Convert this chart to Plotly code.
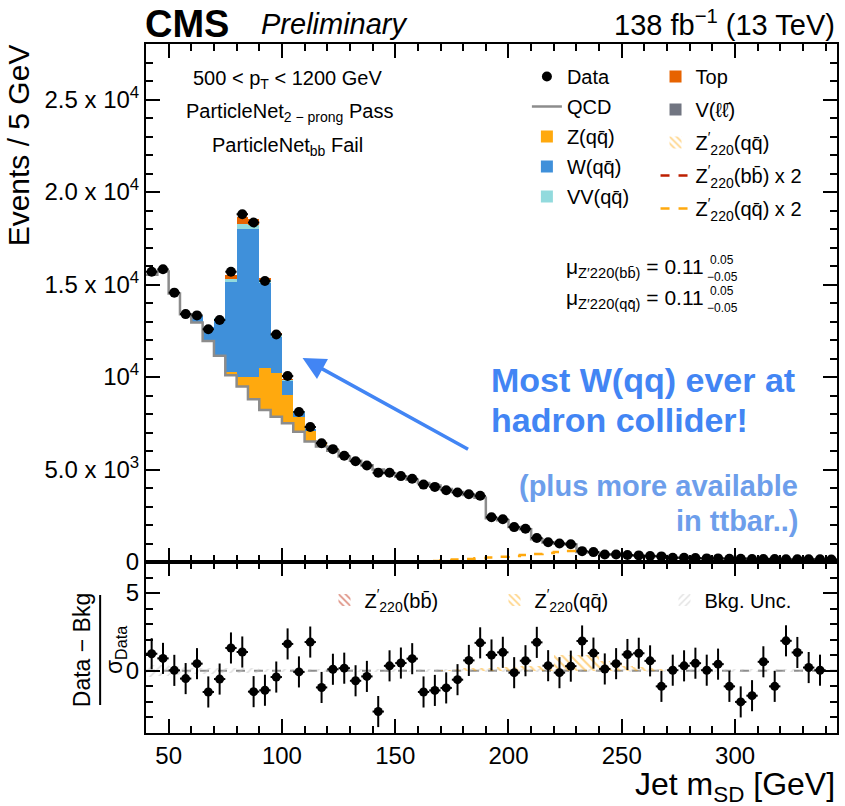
import numpy as np
import plotly.graph_objects as go

# ---------------- data ----------------
bin_width = 5
bin_low = list(range(40, 345, 5))          # 61 bins, 40 - 345 GeV

data = [15690, 15820, 14560, 13400, 13330, 12580, 13080, 15690, 18800, 18350,
        15190, 12300, 10050, 8110, 7295, 6420, 6100, 5747, 5443, 5213,
        4823, 4823, 4643, 4500, 4183, 4060, 3880, 3755, 3666, 3577,
        2420, 2313, 1887, 1798, 1300, 1068, 996, 960, 587, 534,
        410, 410, 375, 357, 320, 303, 230, 230, 210, 195,
        195, 178, 178, 160, 160, 160, 142, 142, 142, 142, 130]

qcd = [15530, 15700, 14520, 13390, 12950, 11950, 11150, 10090, 9480, 8800,
       8220, 7850, 7500, 7040, 6520, 6250, 6010, 5700, 5475, 5230,
       5000, 4800, 4610, 4450, 4270, 4140, 3950, 3790, 3625, 3470,
       2370, 2256, 1892, 1771, 1234, 1057, 1000, 951, 541, 508,
       408, 401, 355, 336, 308, 320, 229, 225, 203, 194,
       189, 191, 205, 180, 153, 173, 119, 128, 140, 142, 130]

zqq = [0, 0, 0, 0, 0, 0, 50, 180, 540, 1220,
       2250, 2350, 1530, 810, 600, 256, 82, 34, 15, 0] + [0] * 41
wqq = [20, 20, 30, 60, 330, 780, 1900, 4870, 8000, 7980,
       4604, 2010, 780, 250, 18, 0, 0, 0, 0, 0] + [0] * 41
vvqq = [0, 0, 0, 0, 0, 0, 40, 170, 250, 230,
        160, 90, 50, 16, 0, 0, 0, 0, 0, 0] + [0] * 41
top = [0, 0, 0, 0, 0, 0, 0, 196, 364, 301,
       110, 44, 17, 0, 0, 0, 0, 0, 0, 0] + [0] * 41

# Z'(220) -> qq signal (x1), bins 40..340
zp_qq = [0] * 23 + [5, 15, 30, 50, 65, 80, 100, 125, 145, 165,
                    190, 215, 240, 270, 300, 20, 10, 5] + [0] * 20

# lower panel: (Data - Bkg) / sigma_Data, bins 40..335
pull = [1.10, 0.80, 0.03, -0.50, 0.46, -1.36, -0.53, 1.47, 1.21, -1.34,
        -1.25, -0.40, 1.73, -0.07, 1.85, -1.07, 0.10, 0.17, -0.64, -0.36,
        -2.62, 0.32, 0.50, 0.78, -1.36, -1.26, -1.10, -0.57, 0.67, 1.80,
        1.02, 1.19, -0.12, 0.65, 1.83, 0.33, -0.12, 0.30, 1.92, 1.14,
        0.12, 0.46, 1.05, 1.13, 0.64, -1.00, 0.04, 0.32, 0.49, 0.04,
        0.43, -1.00, -2.00, -1.60, 0.58, -1.00, 1.93, 1.18, 0.21, 0.04]
bkg_unc = [0.40, 0.35, 0.30, 0.25, 0.20, 0.18, 0.16, 0.15, 0.15, 0.15] + [0.10] * 50
sig_pull = [0] * 26 + [0.05, 0.10, 0.15, 0.20, 0.20, 0.25, 0.25, 0.30, 0.30, 0.35,
                       1.00, 1.05, 1.05, 1.00, 0.60, 0.50, 0.30, 0.25, 0.15, 0.10] + [0] * 14

y_tickvals = [0, 5000, 10000, 15000, 20000, 25000]
y_ticktext = ["0", "5.0 x 10<sup>3</sup>", "10<sup>4</sup>", "1.5 x 10<sup>4</sup>",
              "2.0 x 10<sup>4</sup>", "2.5 x 10<sup>4</sup>"]

QQ = "qq\u0304"
BB = "bb\u0304"
LL = "\u2113\u2113\u0304"

# ---------------- derived ----------------
centers = [b + bin_width / 2 for b in bin_low]
edges = bin_low + [bin_low[-1] + bin_width]
centers_pull = centers[:len(pull)]

FONT = "Liberation Sans, Arial, Helvetica, sans-serif"
C_Z, C_W, C_VV, C_TOP, C_VLL = "#FFA90E", "#3F90DA", "#92DADD", "#E76300", "#717581"
C_QCD, C_RED = "#8c8c8c", "#BD1F01"

fig = go.Figure()

# stacked backgrounds (QCD transparent at the bottom of the stack)
fig.add_trace(go.Bar(x=centers, y=qcd, width=bin_width, marker=dict(color="rgba(0,0,0,0)", line_width=0),
                     showlegend=False, hoverinfo="skip", xaxis="x", yaxis="y"))
for name, vals, col, leg, rank in [("Z(" + QQ + ")", zqq, C_Z, "legend", 3),
                                   ("W(" + QQ + ")", wqq, C_W, "legend", 4),
                                   ("VV(" + QQ + ")", vvqq, C_VV, "legend", 5),
                                   ("Top", top, C_TOP, "legend2", 6)]:
    fig.add_trace(go.Bar(x=centers, y=vals, width=bin_width, name=name, legendgroup="g%d" % rank,
                         marker=dict(color=col, line_width=0), legend=leg, legendrank=rank,
                         xaxis="x", yaxis="y"))
# V(ll) (negligible, legend entry)
fig.add_trace(go.Bar(x=[None], y=[None], name="V(" + LL + ")", marker=dict(color=C_VLL, line_width=0),
                     legend="legend2", legendrank=7, legendgroup="g7", xaxis="x", yaxis="y"))
# Z' hatched (legend entry)
fig.add_trace(go.Bar(x=[None], y=[None], name="Z<sup>′</sup><sub>220</sub>(" + QQ + ")",
                     marker=dict(color="rgba(0,0,0,0)", line_width=0,
                                 pattern=dict(shape="\\", fgcolor=C_Z, bgcolor="rgba(0,0,0,0)", size=6, solidity=0.35)),
                     legend="legend2", legendrank=8, legendgroup="g8", xaxis="x", yaxis="y"))

# QCD step line
fig.add_trace(go.Scatter(x=edges, y=qcd + [qcd[-1]], mode="lines", line=dict(shape="hv", color=C_QCD, width=2.5),
                         name="QCD", legend="legend", legendrank=2, legendgroup="g2", xaxis="x", yaxis="y"))
# Z' x2 dashed lines
fig.add_trace(go.Scatter(x=[None], y=[None], mode="lines", line=dict(color=C_RED, width=2.5, dash="dash"),
                         name="Z<sup>′</sup><sub>220</sub>(" + BB + ") x 2", legend="legend2", legendrank=9,
                         legendgroup="g9", xaxis="x", yaxis="y"))
zp_qq_x2 = [2 * v for v in zp_qq]
fig.add_trace(go.Scatter(x=edges, y=zp_qq_x2 + [zp_qq_x2[-1]], mode="lines",
                         line=dict(shape="hv", color=C_Z, width=2.5, dash="dash"),
                         name="Z<sup>′</sup><sub>220</sub>(" + QQ + ") x 2", legend="legend2", legendrank=10,
                         legendgroup="g10", xaxis="x", yaxis="y"))
# data
fig.add_trace(go.Scatter(x=centers, y=data, mode="markers", name="Data",
                         marker=dict(color="black", size=10),
                         error_x=dict(type="constant", value=bin_width / 2, color="black", thickness=2, width=0),
                         error_y=dict(type="data", array=list(np.sqrt(data)), color="black", thickness=2, width=0),
                         legend="legend", legendrank=1, legendgroup="g1", xaxis="x", yaxis="y"))

# ---------------- lower panel ----------------
fig.add_trace(go.Bar(x=[None], y=[None], name="Z<sup>′</sup><sub>220</sub>(" + BB + ")",
                     marker=dict(color="rgba(0,0,0,0)", line_width=0,
                                 pattern=dict(shape="\\", fgcolor=C_RED, bgcolor="rgba(0,0,0,0)", size=6, solidity=0.35)),
                     legend="legend3", legendrank=1, xaxis="x2", yaxis="y2"))
fig.add_trace(go.Bar(x=centers, y=sig_pull, base=0, width=bin_width,
                     name="Z<sup>′</sup><sub>220</sub>(" + QQ + ")",
                     marker=dict(color="rgba(0,0,0,0)", line_width=0,
                                 pattern=dict(shape="\\", fgcolor=C_Z, bgcolor="rgba(0,0,0,0)", size=6, solidity=0.35)),
                     legend="legend3", legendrank=2, xaxis="x2", yaxis="y2"))
fig.add_trace(go.Bar(x=centers_pull, y=[2 * u for u in bkg_unc], base=[-u for u in bkg_unc], width=bin_width,
                     name="Bkg. Unc.",
                     marker=dict(color="rgba(0,0,0,0)", line_width=0,
                                 pattern=dict(shape="/", fgcolor="#c4c4c4", bgcolor="rgba(0,0,0,0)", size=6, solidity=0.3)),
                     legend="legend3", legendrank=3, xaxis="x2", yaxis="y2"))
fig.add_trace(go.Scatter(x=centers_pull, y=pull, mode="markers", showlegend=False,
                         marker=dict(color="black", size=9),
                         error_x=dict(type="constant", value=bin_width / 2, color="black", thickness=2, width=0),
                         error_y=dict(type="constant", value=1, color="black", thickness=2, width=0),
                         xaxis="x2", yaxis="y2"))

# ---------------- layout ----------------
L, R, T, B = 146, 6, 44, 73
W, H = 845, 806
PW, PH = W - L - R, H - T - B
split = (733 - 562) / PH


def xp(px):
    return (px - L) / PW


def yp(py):
    return (H - B - py) / PH


axis_common = dict(showline=True, linewidth=2, linecolor="black", mirror="ticks", ticks="inside",
                   tickwidth=1.5, tickcolor="black", ticklen=14, showgrid=False, zeroline=False,
                   tickfont=dict(family=FONT, size=24, color="black"))
minor_x = dict(ticks="inside", ticklen=7, tickmode="linear", tick0=0, dtick=10, tickcolor="black", tickwidth=1.5)
fig.update_layout(
    width=W, height=H, margin=dict(l=L, r=R, t=T, b=B),
    paper_bgcolor="white", plot_bgcolor="white",
    barmode="stack", bargap=0,
    font=dict(family=FONT, color="black"),
    xaxis=dict(domain=[0, 1], anchor="y", range=[40, 345], tickmode="linear", tick0=0, dtick=50,
               showticklabels=False, matches="x2", minor=minor_x, **axis_common),
    xaxis2=dict(domain=[0, 1], anchor="y2", range=[40, 345], tickmode="linear", tick0=0, dtick=50,
                minor=minor_x, **axis_common),
    yaxis=dict(domain=[split, 1], anchor="x", range=[0, 28000], tickmode="array",
               tickvals=y_tickvals, ticktext=y_ticktext,
               minor=dict(ticks="inside", ticklen=7, tickmode="linear", tick0=0, dtick=1000, tickcolor="black", tickwidth=1.5),
               **axis_common),
    yaxis2=dict(domain=[0, split], anchor="x2", range=[-4, 7], tickmode="linear", tick0=0, dtick=5,
                minor=dict(ticks="inside", ticklen=7, tickmode="linear", tick0=0, dtick=1, tickcolor="black", tickwidth=1.5),
                **axis_common),
    legend=dict(x=xp(528), y=yp(57), xanchor="left", yanchor="top", bgcolor="rgba(0,0,0,0)",
                font=dict(family=FONT, size=20), tracegroupgap=1, traceorder="grouped"),
    legend2=dict(x=xp(657), y=yp(57), xanchor="left", yanchor="top", bgcolor="rgba(0,0,0,0)",
                 font=dict(family=FONT, size=20), tracegroupgap=4, traceorder="grouped"),
    legend3=dict(x=xp(325), y=yp(600), xanchor="left", yanchor="middle", orientation="h",
                 bgcolor="rgba(0,0,0,0)", font=dict(family=FONT, size=20), entrywidth=125, traceorder="normal"),
    showlegend=True,
)

# zero line in the lower panel
fig.add_shape(type="line", xref="x2", yref="y2", x0=40, x1=345, y0=0, y1=0,
              line=dict(color="#8c8c8c", width=2, dash="dash"), layer="below")
# fraction bar of the lower y title
fig.add_shape(type="line", xref="paper", yref="paper", x0=xp(100), x1=xp(100), y0=yp(705), y1=yp(595),
              line=dict(color="black", width=2))

ann = []


def add_text(text, x, y, size, xanchor="left", yanchor="middle", color="black", angle=0, align="left"):
    ann.append(dict(text=text, x=xp(x), y=yp(y), xref="paper", yref="paper", showarrow=False,
                    xanchor=xanchor, yanchor=yanchor, align=align, textangle=angle,
                    font=dict(family=FONT, size=size, color=color)))


add_text("<b>CMS</b>", 143, 24, 38)
add_text("<i>Preliminary</i>", 259, 24, 29)
add_text("138 fb<sup>−1</sup> (13 TeV)", 839, 23, 29, xanchor="right")
add_text("Events / 5 GeV", 18, 42, 30, xanchor="center", yanchor="top", angle=-90)
add_text("Jet m<sub>SD</sub> [GeV]", 839, 787, 32, xanchor="right")
add_text("Data − Bkg", 82, 650, 23, xanchor="center", angle=-90)
add_text("σ<sub>Data</sub>", 115, 650, 23, xanchor="center", angle=-90)
add_text("500 < p<sub>T</sub> < 1200 GeV", 288, 80, 20, xanchor="center")
add_text("ParticleNet<sub>2 − prong</sub> Pass", 290, 113, 20, xanchor="center")
add_text("ParticleNet<sub>bb</sub> Fail", 288, 146, 20, xanchor="center")
add_text("μ<sub>Z′220(" + BB + ")</sub> = 0.11", 708, 268, 21, xanchor="right")
add_text("0.05", 710, 260, 12)
add_text("−0.05", 707, 277, 12)
add_text("μ<sub>Z′220(" + QQ + ")</sub> = 0.11", 708, 299, 21, xanchor="right")
add_text("0.05", 710, 291, 12)
add_text("−0.05", 707, 308, 12)
add_text("<b>Most W(qq) ever at</b>", 490, 380, 34, color="#4285F4")
add_text("<b>hadron collider!</b>", 490, 420, 34, color="#4285F4")
add_text("<b>(plus more available</b>", 802, 486, 29, xanchor="right", color="#6D9EEB")
add_text("<b>in ttbar..)</b>", 802, 521, 29, xanchor="right", color="#6D9EEB")
ann.append(dict(text="", x=xp(303), y=yp(358), xref="paper", yref="paper", showarrow=True,
                ax=470 - 303, ay=450 - 358, arrowhead=2, arrowsize=1.3, arrowwidth=3.5,
                arrowcolor="#4285F4", standoff=0))
fig.update_layout(annotations=ann)

fig.write_html("out.html")
